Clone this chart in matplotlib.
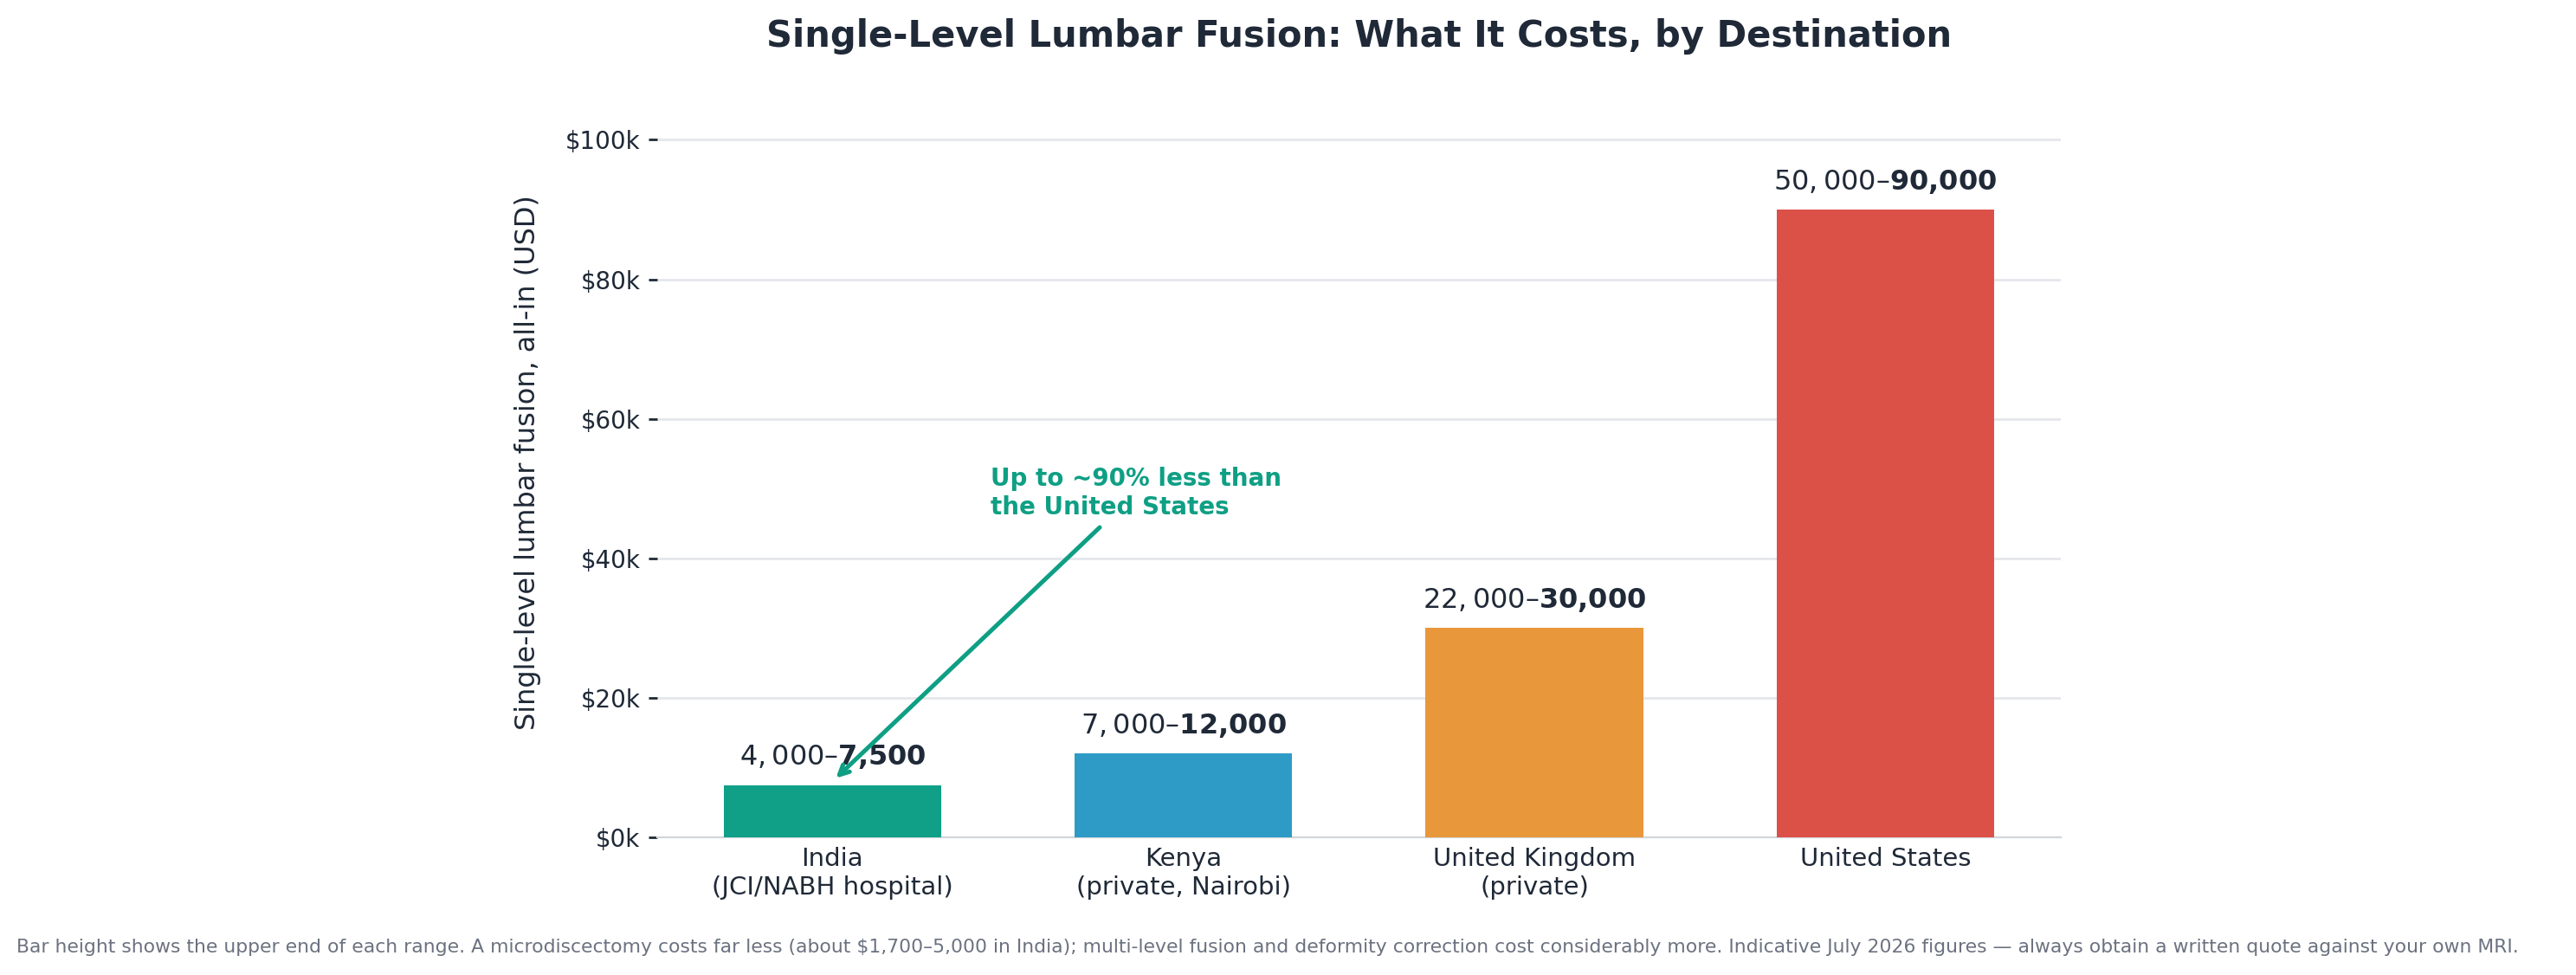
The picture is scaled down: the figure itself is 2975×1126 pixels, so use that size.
import matplotlib
matplotlib.use('Agg')
import matplotlib.pyplot as plt
from matplotlib.ticker import FuncFormatter

# ── 数据 ──────────────────────────────────────────────────────────────
destinations = ['India\n(JCI/NABH hospital)', 'Kenya\n(private, Nairobi)',
                'United Kingdom\n(private)', 'United States']
cost_low  = [4000, 7000, 22000, 50000]
cost_high = [7500, 12000, 30000, 90000]
bar_colors = ['#0fa087', '#2e9bc6', '#e8973b', '#db5148']

title = 'Single-Level Lumbar Fusion: What It Costs, by Destination'
ylabel = 'Single-level lumbar fusion, all-in (USD)'
callout = 'Up to ~90% less than\nthe United States'
footnote = ('Bar height shows the upper end of each range. A microdiscectomy costs far less '
            '(about $1,700–5,000 in India); multi-level fusion and deformity correction cost '
            'considerably more. Indicative July 2026 figures — always obtain a written quote '
            'against your own MRI.')

DARK = '#1f2937'
GREEN = '#0e9f84'

fig = plt.figure(figsize=(14.875, 5.63), dpi=200)
ax_rect = [0.255, 0.1412, 0.545, 0.787]
ax = fig.add_axes(ax_rect)

x = range(len(destinations))
ax.bar(x, cost_high, width=0.62, color=bar_colors, zorder=3)

# "$lo–$" goes through mathtext, the upper value stays bold text
for i, (lo, hi) in enumerate(zip(cost_low, cost_high)):
    ax.text(i, hi + 2000, f'${lo:,}–${hi:,}', ha='center', va='bottom',
            fontsize=11.5, fontweight='bold', color=DARK, zorder=4)

ax.annotate(callout, xy=(0.0, 8000), xytext=(0.45, 45600),
            ha='left', va='bottom', fontsize=10, fontweight='bold', color=GREEN,
            arrowprops=dict(arrowstyle='->', color=GREEN, lw=1.8), zorder=5)

ax.set_xlim(-0.5, 3.5)
ax.set_ylim(0, 110000)
ax.set_yticks([0, 20000, 40000, 60000, 80000, 100000])
ax.yaxis.set_major_formatter(FuncFormatter(lambda v, p: f'${int(v/1000)}k'))
ax.set_xticks(list(x))
ax.set_xticklabels(destinations, fontsize=10.5, color=DARK)
ax.tick_params(axis='x', length=0, pad=4)
ax.tick_params(axis='y', labelsize=10, colors=DARK, length=3.5, width=1)
ax.set_ylabel(ylabel, fontsize=11.5, color=DARK, labelpad=10)
ax.yaxis.label.set_y(0.488)

ax.grid(axis='y', color='#e5e7eb', lw=1, zorder=0)
ax.set_axisbelow(True)
for s in ['top', 'right', 'left']:
    ax.spines[s].set_visible(False)
ax.spines['bottom'].set_color('#d1d5db')

# title centred over the axes, at a fixed height near the top of the figure
title_y = (1 - 0.037 - ax_rect[1]) / ax_rect[3]
ax.text(0.5, title_y, title, transform=ax.transAxes, ha='center', va='center',
        fontsize=15, fontweight='bold', color=DARK)

fig.text(0.0065, 0.0195, footnote, fontsize=7.9, color='#6b7280', ha='left', va='bottom')

fig.savefig('out.png', dpi=200, facecolor='white')
